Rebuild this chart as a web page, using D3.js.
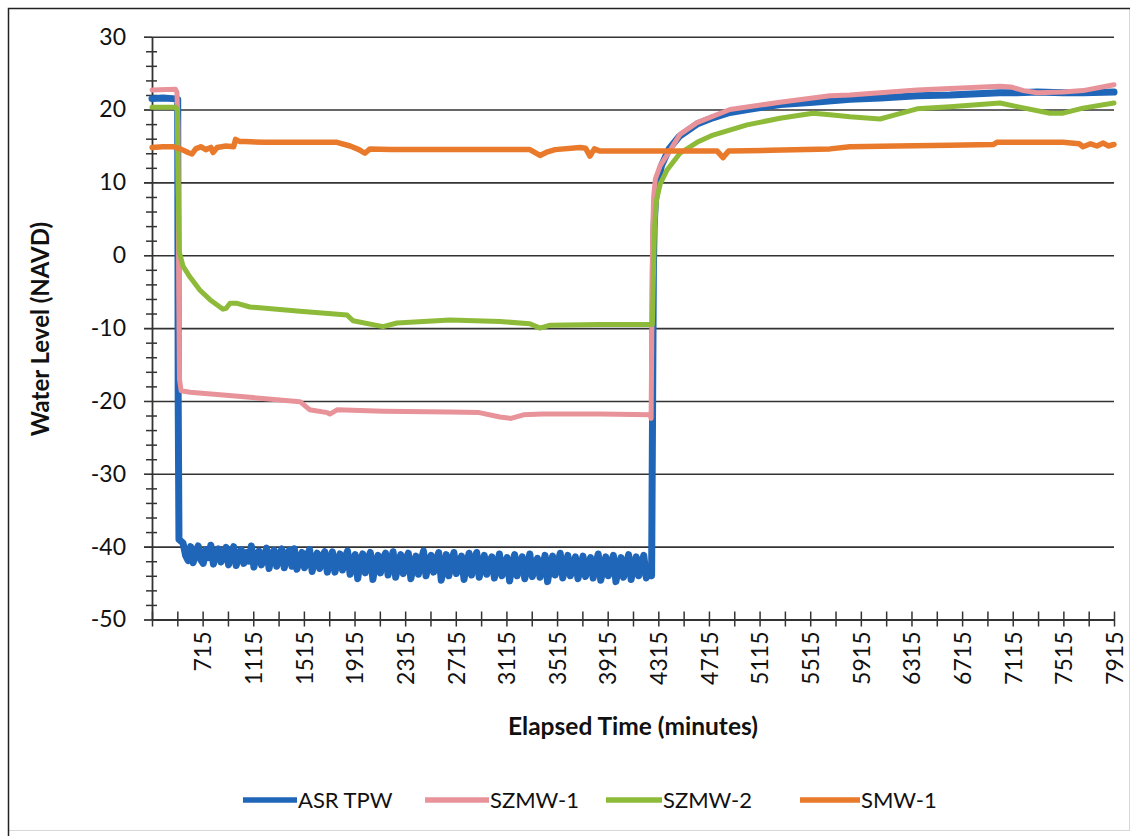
<!DOCTYPE html>
<html>
<head>
<meta charset="utf-8">
<script src="https://cdn.jsdelivr.net/npm/d3@7"></script>
<style>
  html, body { margin: 0; padding: 0; background: #fff; }
  svg { display: block; }
  text { font-family: Lato, "Open Sans", sans-serif; fill: #111; }
</style>
</head>
<body>
<script>
// ---------------- DATA ----------------
const seriesNames = ["ASR TPW", "SZMW-1", "SZMW-2", "SMW-1"];
const seriesColors = ["#1F65B8", "#E8939A", "#8DBA38", "#EA7A2B"];

const yTickValues = [-50, -40, -30, -20, -10, 0, 10, 20, 30];
const xTickStart = 315, xTickEnd = 7915, xTickStep = 200, xLabelStep = 400;

// ASR TPW: before pumping, drawdown samples (every 20 min), recovery
const asrPreTime  = [315, 400, 480, 518, 522, 528];
const asrPreValue = [21.5, 21.6, 21.5, 21.4, -20, -39.0];
const asrDrawTime = d3.range(560, 4241, 20);
const asrDrawValue = [
  -39.5, -41.2, -41.9, -40.0, -42.2, -40.8, -39.9, -41.8, -42.3, -40.4,
  -41.5, -39.8, -42.4, -41.0, -40.3, -42.1, -41.4, -40.1, -42.5, -40.9,
  -40.0, -42.6, -41.3, -40.4, -42.3, -40.8, -42.0, -39.9, -42.8, -41.2,
  -40.6, -42.5, -41.6, -40.2, -43.0, -41.0, -40.5, -42.7, -41.5, -40.3,
  -42.9, -41.1, -40.5, -42.7, -40.3, -43.1, -41.7, -40.8, -42.9, -41.2,
  -40.4, -43.4, -41.8, -40.9, -43.0, -41.3, -40.7, -43.5, -41.9, -40.7,
  -43.5, -42.0, -41.0, -43.2, -41.5, -40.6, -43.8, -42.2, -41.1, -44.4,
  -42.0, -41.0, -43.6, -41.7, -40.8, -44.5, -42.3, -41.2, -43.6, -41.6,
  -40.9, -43.9, -42.0, -40.7, -44.2, -42.5, -41.1, -43.7, -41.8, -40.9,
  -44.4, -42.6, -41.3, -43.8, -42.0, -40.6, -44.0, -42.3, -41.2, -43.5,
  -41.9, -40.8, -44.6, -42.8, -41.1, -44.0, -42.2, -40.8, -43.7, -42.5,
  -41.3, -44.5, -42.4, -40.9, -43.9, -42.0, -40.8, -44.2, -42.6, -41.2,
  -43.8, -42.1, -41.4, -44.3, -42.7, -41.0, -44.0, -42.5, -41.5, -44.7,
  -42.6, -41.1, -44.0, -42.3, -41.4, -44.4, -42.8, -41.0, -44.1, -42.4,
  -41.6, -44.2, -42.9, -41.2, -44.8, -42.7, -41.3, -43.9, -42.5, -40.9,
  -44.3, -42.8, -41.2, -44.0, -42.6, -41.4, -44.4, -42.9, -41.3, -44.1,
  -42.7, -41.5, -44.3, -42.5, -41.0, -44.6, -43.0, -41.4, -44.0, -42.6,
  -41.2, -44.8, -42.9, -41.5, -44.2, -42.7, -41.1, -44.5, -42.8, -41.4,
  -44.0, -42.6, -41.2, -44.3, -42.9
];
const asrPostTime  = [4262, 4270, 4276, 4282, 4292, 4310, 4340, 4400, 4480, 4620, 4750, 4880, 5020, 5280, 5540, 5830, 6070, 6360, 6620, 7010, 7150, 7310, 7510, 7670, 7915];
const asrPostValue = [-44.0, -20.0, -2.0, 4.0, 7.5, 10.0, 12.3, 14.6, 16.3, 18.0, 18.9, 19.6, 20.0, 20.7, 21.0, 21.4, 21.6, 21.9, 22.0, 22.3, 22.3, 22.4, 22.3, 22.3, 22.4];

// SZMW-1
const szmw1Time  = [315, 500, 512, 520, 526, 532, 545, 615, 1089, 1484, 1560, 1700, 1720, 1780, 2140, 2669, 2900, 3064, 3150, 3250, 3400, 3854, 4250, 4258, 4264, 4270, 4278, 4292, 4330, 4390, 4486, 4621, 4881, 5276, 5671, 5829, 6066, 6359, 6619, 7014, 7100, 7200, 7307, 7512, 7670, 7915];
const szmw1Value = [22.7, 22.8, 22.4, 18.0, -5.0, -17.0, -18.6, -18.8, -19.5, -20.1, -21.2, -21.6, -21.8, -21.2, -21.4, -21.5, -21.6, -22.2, -22.4, -21.9, -21.8, -21.8, -21.9, -22.4, -10.0, 3.0, 8.0, 10.5, 12.3, 13.9, 16.6, 18.2, 20.0, 21.0, 21.9, 22.0, 22.3, 22.7, 22.9, 23.2, 23.1, 22.6, 22.3, 22.4, 22.6, 23.4];

// SZMW-2
const szmw2Time  = [315, 505, 515, 522, 530, 560, 615, 694, 773, 876, 900, 931, 987, 1089, 1484, 1856, 1903, 2140, 2251, 2669, 3064, 3300, 3380, 3460, 3854, 4268, 4276, 4286, 4300, 4330, 4384, 4486, 4621, 4747, 5016, 5276, 5537, 5671, 5829, 6066, 6150, 6359, 6619, 7014, 7149, 7409, 7512, 7670, 7915];
const szmw2Value = [20.3, 20.3, 19.8, 10.0, 0.5, -1.5, -3.0, -4.8, -6.1, -7.4, -7.3, -6.6, -6.6, -7.1, -7.7, -8.2, -9.0, -9.8, -9.3, -8.9, -9.1, -9.4, -10.0, -9.6, -9.5, -9.5, -3.0, 4.0, 7.5, 9.8, 11.7, 14.0, 15.5, 16.5, 17.9, 18.8, 19.5, 19.3, 19.0, 18.7, 19.1, 20.1, 20.4, 20.9, 20.4, 19.5, 19.5, 20.2, 20.9];

// SMW-1
const smw1Time  = [315, 400, 480, 540, 600, 631, 660, 700, 740, 780, 797, 830, 900, 960, 975, 1010, 1050, 1200, 1500, 1776, 1880, 1950, 1997, 2037, 2200, 2600, 3000, 3300, 3380, 3440, 3500, 3696, 3740, 3775, 3810, 3854, 4300, 4780, 4826, 4870, 5200, 5671, 5829, 6200, 6619, 6960, 6990, 7200, 7512, 7640, 7670, 7730, 7780, 7830, 7870, 7915];
const smw1Value = [14.8, 14.9, 14.9, 14.6, 14.1, 13.9, 14.6, 14.9, 14.5, 14.8, 14.1, 14.8, 15.0, 14.9, 15.9, 15.6, 15.6, 15.5, 15.5, 15.5, 15.0, 14.5, 14.0, 14.6, 14.5, 14.5, 14.5, 14.5, 13.7, 14.2, 14.5, 14.8, 14.7, 13.6, 14.6, 14.3, 14.3, 14.3, 13.4, 14.3, 14.4, 14.6, 14.9, 15.0, 15.1, 15.2, 15.5, 15.5, 15.5, 15.3, 14.9, 15.3, 15.0, 15.4, 15.0, 15.2];

// ---------------- CHART ----------------
const W = 1137, H = 836;
const plot = { left: 152, right: 1114, top: 36.7, bottom: 619.5 };

const svg = d3.select("body").append("svg").attr("width", W).attr("height", H);

// frame
svg.append("rect").attr("x", 8.5).attr("y", 8.5).attr("width", 1121).attr("height", 822)
  .attr("fill", "none").attr("stroke", "#d8d8d8").attr("stroke-width", 1);
svg.append("path").attr("d", "M8.5,836 V8.5 H1130").attr("fill", "none").attr("stroke", "#222").attr("stroke-width", 1.5);

const x = d3.scaleLinear().domain([xTickStart, xTickEnd]).range([plot.left, plot.right]);
const y = d3.scaleLinear().domain([-50, 30]).range([plot.bottom, plot.top]);

// gridlines
const grid = svg.append("g").attr("transform", `translate(${plot.left},0)`)
  .call(d3.axisLeft(y).tickValues(yTickValues).tickSize(-(plot.right - plot.left)).tickFormat(""));
grid.select(".domain").remove();
grid.selectAll("line").attr("x1", -8).attr("stroke", "#333").attr("stroke-width", 1.6);

// y minor ticks (cross)
const minor = svg.append("g").attr("transform", `translate(${plot.left},0)`)
  .call(d3.axisLeft(y).tickValues(d3.range(-50, 31, 2).filter(v => v % 10 !== 0)).tickSize(6).tickFormat(""));
minor.select(".domain").remove();
minor.selectAll("line").attr("x1", 5).attr("x2", -6).attr("stroke", "#333").attr("stroke-width", 1.5);

// y axis
const yAxis = svg.append("g").attr("transform", `translate(${plot.left},0)`)
  .call(d3.axisLeft(y).tickValues(yTickValues).tickSize(8).tickPadding(18).tickSizeOuter(0)
    .tickFormat(d => String(d)));
yAxis.select(".domain").attr("stroke", "#333").attr("stroke-width", 1.8);
yAxis.selectAll("line").attr("stroke", "#333");
yAxis.selectAll("text").style("font-size", "23px").style("font-family", "Lato").attr("fill", "#111");

// x axis
const xAxis = svg.append("g").attr("transform", `translate(0,${plot.bottom})`)
  .call(d3.axisBottom(x).tickValues(d3.range(xTickStart, xTickEnd + 1, xTickStep))
    .tickSize(7).tickSizeOuter(0)
    .tickFormat(d => (d !== xTickStart && (d - xTickStart) % xLabelStep === 0) ? String(d) : ""));
xAxis.select(".domain").attr("stroke", "#333").attr("stroke-width", 1.8);
xAxis.selectAll(".tick line").attr("y1", -8).attr("y2", 7).attr("stroke", "#333").attr("stroke-width", 1.5);
xAxis.selectAll(".tick text")
  .attr("transform", "rotate(-90)")
  .attr("x", -12).attr("y", 0).attr("dy", "0.36em")
  .attr("text-anchor", "end")
  .style("font-size", "23px").style("font-family", "Lato").attr("fill", "#111");

// axis titles
svg.append("text").attr("transform", `translate(41,${329}) rotate(-90)`)
  .attr("text-anchor", "middle").attr("dy", "0.35em").attr("font-weight", "bold").style("font-size", "24px")
  .text("Water Level (NAVD)");
svg.append("text").attr("x", 633).attr("y", 735)
  .attr("text-anchor", "middle").attr("font-weight", "bold").style("font-size", "24.5px")
  .text("Elapsed Time (minutes)");

// series
const zip = (t, v) => t.map((d, i) => [d, v[i]]);
const seriesData = [
  zip(asrPreTime.concat(asrDrawTime, asrPostTime), asrPreValue.concat(asrDrawValue, asrPostValue)),
  zip(szmw1Time, szmw1Value),
  zip(szmw2Time, szmw2Value),
  zip(smw1Time, smw1Value)
];
const widths = [7, 5, 5, 5.5];
const line = d3.line().x(d => x(d[0])).y(d => y(d[1]));
svg.append("g").selectAll("path").data(seriesData).join("path")
  .attr("d", line)
  .attr("fill", "none")
  .attr("stroke", (d, i) => seriesColors[i])
  .attr("stroke-width", (d, i) => widths[i])
  .attr("stroke-linejoin", "round")
  .attr("stroke-linecap", "round");

// legend
const legendX = [243, 425, 606, 800];
const legendLen = [54, 64, 56, 60];
const leg = svg.append("g");
seriesNames.forEach((name, i) => {
  leg.append("line").attr("x1", legendX[i]).attr("x2", legendX[i] + legendLen[i])
    .attr("y1", 800).attr("y2", 800)
    .attr("stroke", seriesColors[i]).attr("stroke-width", 5.5);
  leg.append("text").attr("x", legendX[i] + legendLen[i] + 1).attr("y", 808)
    .style("font-size", "22px").text(name);
});
</script>
</body>
</html>
